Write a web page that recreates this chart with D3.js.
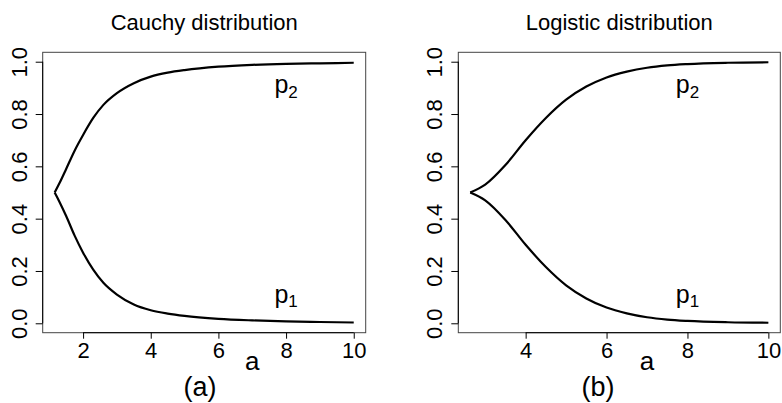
<!DOCTYPE html>
<html>
<head>
<meta charset="utf-8">
<script src="https://cdn.jsdelivr.net/npm/d3@7"></script>
<style>
  html, body { margin: 0; padding: 0; background: #fff; }
  svg { display: block; }
  text { font-family: "Liberation Sans", Arial, Helvetica, sans-serif; fill: #000; }
</style>
</head>
<body>
<svg id="chart" width="782" height="403"></svg>
<script>
// ---- data ----
const cauchyA  = [1.16, 1.3, 1.5, 1.75, 2, 2.3, 2.6, 3, 3.5, 4, 4.5, 5, 6, 7, 8, 9, 10];
const cauchyP2 = [0.5, 0.535, 0.59, 0.66, 0.72, 0.785, 0.835, 0.88, 0.918, 0.943, 0.958, 0.968, 0.981, 0.988, 0.992, 0.994, 0.996];
const cauchyP1 = [0.5, 0.465, 0.41, 0.335, 0.27, 0.205, 0.155, 0.11, 0.072, 0.05, 0.037, 0.028, 0.017, 0.011, 0.007, 0.005, 0.003];

const logisticA  = [2.63, 3.0, 3.5, 4, 4.5, 5, 5.5, 6, 6.5, 7, 7.5, 8, 9, 10];
const logisticP2 = [0.5, 0.53, 0.605, 0.70, 0.785, 0.855, 0.905, 0.94, 0.962, 0.977, 0.986, 0.991, 0.996, 0.998];
const logisticP1 = [0.5, 0.47, 0.395, 0.30, 0.215, 0.145, 0.095, 0.06, 0.038, 0.023, 0.014, 0.009, 0.004, 0.002];

const xTicksCauchy   = [2, 4, 6, 8, 10];
const xTicksLogistic = [4, 6, 8, 10];
const yTicks      = [0, 0.2, 0.4, 0.6, 0.8, 1.0];
const yTickLabels = ["0.0", "0.2", "0.4", "0.6", "0.8", "1.0"];

const titles      = ["Cauchy distribution", "Logistic distribution"];
const panelLabels = ["(a)", "(b)"];
const xLabel = "a";
const seriesNames = ["p", "p"];
const seriesSubs  = ["2", "1"];
const labelX = 8;              // x position of curve labels (data units)
const labelY = [0.9, 0.1];     // y position of curve labels (data units)
const xLabelAt = 7;            // axis title position (data units)

// ---- layout ----
const svg = d3.select("#chart");
const panels = [
  { a: cauchyA, p1: cauchyP1, p2: cauchyP2, ticks: xTicksCauchy,
    box: { x0: 42.7, x1: 365.7, y0: 52.3, y1: 332.7 }, tagX: 200 },
  { a: logisticA, p1: logisticP1, p2: logisticP2, ticks: xTicksLogistic,
    box: { x0: 458.3, x1: 780.3, y0: 52.3, y1: 332.7 }, tagX: 598 }
];

panels.forEach((P, i) => {
  const b = P.box;
  const ext = d3.extent(P.a);
  const pad = 0.04 * (ext[1] - ext[0]);
  const x = d3.scaleLinear().domain([ext[0] - pad, ext[1] + pad]).range([b.x0, b.x1]);
  const y = d3.scaleLinear().domain([-0.036, 1.036]).range([b.y1, b.y0]);

  const g = svg.append("g");

  // box
  g.append("rect")
    .attr("x", b.x0).attr("y", b.y0)
    .attr("width", b.x1 - b.x0).attr("height", b.y1 - b.y0)
    .attr("fill", "none").attr("stroke", "#444").attr("stroke-width", 1);

  // x axis
  const xa = d3.axisBottom(x).tickValues(P.ticks).tickSize(6).tickPadding(3)
    .tickFormat(d3.format("d"));
  const gx = g.append("g").attr("transform", `translate(0,${b.y1})`).call(xa);
  gx.select(".domain").remove();
  gx.append("line")
    .attr("x1", x(P.ticks[0])).attr("x2", x(P.ticks[P.ticks.length - 1]))
    .attr("stroke", "#000");
  gx.selectAll(".tick line").attr("stroke", "#000");
  gx.selectAll(".tick text")
    .attr("font-size", 22).attr("fill", "#000")
    .attr("dy", null).attr("y", 25)
    .style("font-family", '"Liberation Sans", Arial, sans-serif');

  // y axis
  const ya = d3.axisLeft(y).tickValues(yTicks).tickSize(7)
    .tickFormat((d, k) => yTickLabels[k]);
  const gy = g.append("g").attr("transform", `translate(${b.x0},0)`).call(ya);
  gy.select(".domain").remove();
  gy.append("line")
    .attr("y1", y(yTicks[0])).attr("y2", y(yTicks[yTicks.length - 1]))
    .attr("stroke", "#000");
  gy.selectAll(".tick line").attr("stroke", "#000");
  gy.selectAll(".tick text").remove();
  gy.selectAll(".tick").append("text")
    .attr("transform", "translate(-16,0) rotate(-90)")
    .attr("text-anchor", "middle")
    .attr("font-size", 22)
    .text((d, k) => yTickLabels[k]);

  // curves
  const line = d3.line().x(d => x(d[0])).y(d => y(d[1])).curve(d3.curveMonotoneX);
  [P.p2, P.p1].forEach(vals => {
    g.append("path")
      .datum(P.a.map((a, k) => [a, vals[k]]))
      .attr("d", line)
      .attr("fill", "none")
      .attr("stroke", "#000")
      .attr("stroke-width", 2.2)
      .attr("stroke-linejoin", "round");
  });

  // curve labels
  seriesNames.forEach((nm, k) => {
    const t = g.append("text")
      .attr("x", x(labelX)).attr("y", y(labelY[k]) + 5.5)
      .attr("text-anchor", "middle")
      .attr("font-size", 25);
    t.append("tspan").text(nm);
    t.append("tspan").attr("font-size", 17).attr("dy", 4.5).text(seriesSubs[k]);
  });

  // title
  g.append("text")
    .attr("x", (b.x0 + b.x1) / 2).attr("y", 30)
    .attr("text-anchor", "middle")
    .attr("font-size", 22)
    .text(titles[i]);

  // x label
  g.append("text")
    .attr("x", x(xLabelAt)).attr("y", 370)
    .attr("text-anchor", "middle")
    .attr("font-size", 26)
    .text(xLabel);

  // panel tag
  g.append("text")
    .attr("x", P.tagX).attr("y", 396)
    .attr("text-anchor", "middle")
    .attr("font-size", 27)
    .text(panelLabels[i]);
});
</script>
</body>
</html>
